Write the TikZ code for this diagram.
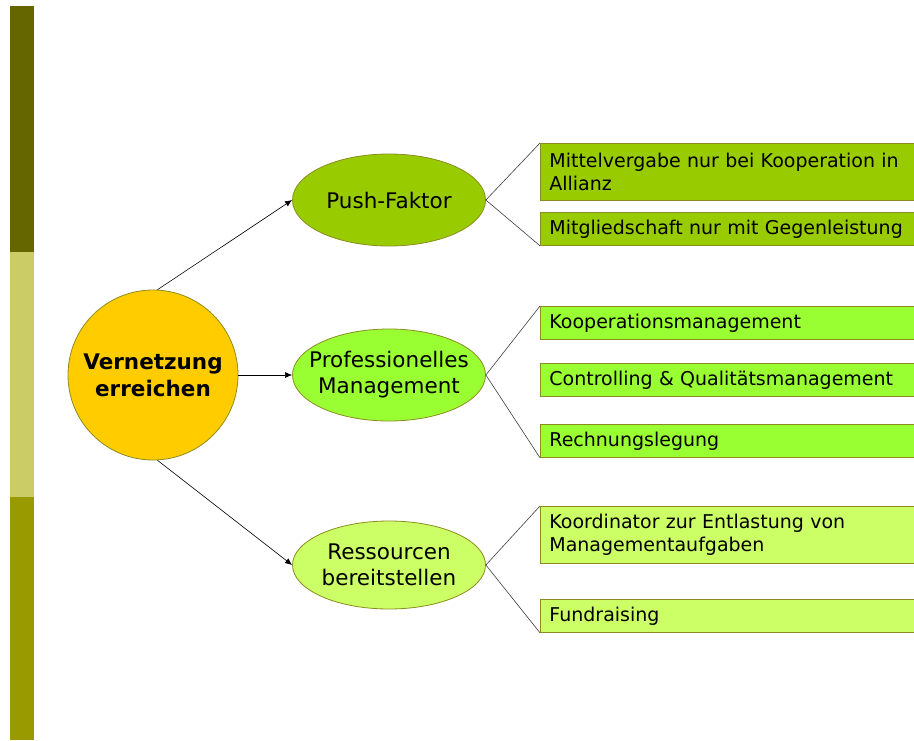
\documentclass[tikz,border=0pt]{standalone}
\usepackage{fontspec}
\setmainfont{DejaVu Sans}
\usetikzlibrary{shapes.geometric,arrows.meta}
\definecolor{bardark}{HTML}{666600}
\definecolor{barlight}{HTML}{CCCC66}
\definecolor{barmid}{HTML}{999900}
\definecolor{cgold}{HTML}{FFCC00}
\definecolor{cg1}{HTML}{99CC00}
\definecolor{cg2}{HTML}{99FF33}
\definecolor{cg3}{HTML}{CCFF66}
\definecolor{edge}{HTML}{8C8C1E}
\definecolor{lnk}{HTML}{404040}
\tikzset{
  x=1pt, y=-1pt,
  oval/.style={ellipse, draw=edge, line width=0.8pt, minimum width=193, minimum height=92, inner sep=-40pt, align=center, font=\fontsize{21.5}{26}\selectfont},
  box/.style={rectangle, draw=edge, line width=0.8pt, anchor=north west, text width=372, inner xsep=9, inner ysep=0pt, align=left, font=\fontsize{19}{23.5}\selectfont},
  arr/.style={draw=black, line width=0.6pt, -{Latex[length=7pt,width=6pt]}},
  lnkline/.style={draw=lnk, line width=0.6pt}
}
\begin{document}
\begin{tikzpicture}
\useasboundingbox (0,0) rectangle (914,740);
\fill[white] (0,0) rectangle (914,740);
% left bar
\fill[bardark] (10,6) rectangle (34,252);
\fill[barlight] (10,252) rectangle (34,497);
\fill[barmid] (10,497) rectangle (34,740);
% center circle
\node (c) [circle, draw=edge, line width=0.8pt, fill=cgold, minimum size=170, inner sep=0pt, align=center, font=\bfseries\fontsize{21.5}{27}\selectfont] at (153,375) {Vernetzung\\erreichen};
% ellipses
\node (e1) [oval, fill=cg1] at (389,200) {Push-Faktor};
\node (e2) [oval, fill=cg2] at (389,375) {Professionelles\\Management};
\node (e3) [oval, fill=cg3, minimum height=88] at (389,565) {Ressourcen\\bereitstellen};
% arrows
\draw[arr] (c.87) -- (e1.west);
\draw[arr] (c.east) -- (e2.west);
\draw[arr] (c.-87) -- (e3.west);
% boxes
\node (b1) [box, fill=cg1, minimum height=57] at (540,143) {Mittelvergabe nur bei Kooperation in\\Allianz};
\node (b2) [box, fill=cg1, minimum height=33] at (540,212) {Mitgliedschaft nur mit Gegenleistung};
\node (b3) [box, fill=cg2, minimum height=33] at (540,306) {Kooperationsmanagement};
\node (b4) [box, fill=cg2, minimum height=33] at (540,363) {Controlling \& Qualitätsmanagement};
\node (b5) [box, fill=cg2, minimum height=33] at (540,424) {Rechnungslegung};
\node (b6) [box, fill=cg3, minimum height=57] at (540,506) {Koordinator zur Entlastung von\\Managementaufgaben};
\node (b7) [box, fill=cg3, minimum height=33] at (540,599) {Fundraising};
% connector lines
\draw[lnkline] (e1.east) -- (b1.north west);
\draw[lnkline] (e1.east) -- (b2.south west);
\draw[lnkline] (e2.east) -- (b3.north west);
\draw[lnkline] (e2.east) -- (b5.south west);
\draw[lnkline] (e3.east) -- (b6.north west);
\draw[lnkline] (e3.east) -- (b7.south west);
\end{tikzpicture}
\end{document}
